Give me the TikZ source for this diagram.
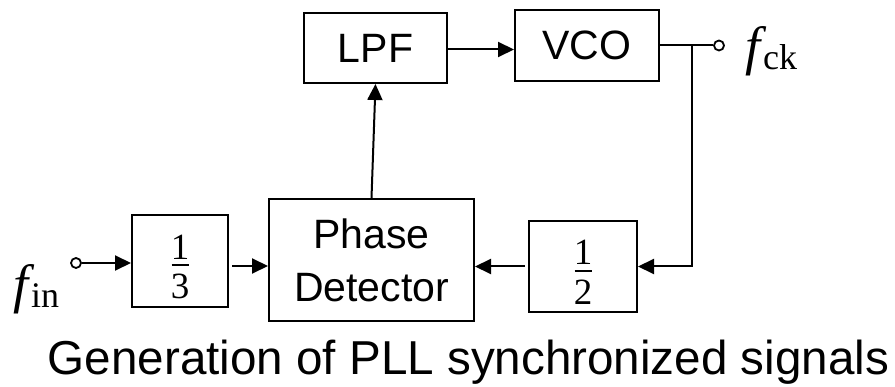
\documentclass[tikz,border=0pt]{standalone}
\usepackage{fontspec}
\setmainfont{Liberation Sans}
\newfontfamily\serifmath{Liberation Serif}
\usetikzlibrary{arrows.meta}
\newcommand{\myfrac}[2]{\vbox{\offinterlineskip\serifmath\fontsize{37}{37}\selectfont
  \kern12pt\hbox to 19pt{\hss#1\hss}\kern5pt
  \hbox to 19pt{\hss\vrule width 17pt height 2pt\hss}\kern8pt
  \hbox to 19pt{\hss#2\hss}}}
\newcommand{\mysub}[2]{{\serifmath\fontsize{54}{54}\selectfont\itshape #1}\kern3pt{\serifmath\fontsize{36}{36}\selectfont\raisebox{-5pt}{#2}}}
\tikzset{
  blk/.style={draw, line width=2pt, inner sep=0pt, align=center,
    font=\fontsize{41}{53}\selectfont},
  fracbox/.style={draw, line width=2pt, inner sep=0pt},
  wire/.style={line width=2pt},
  arr/.style={line width=2pt, -{Triangle[length=16pt,width=15pt]}},
  port/.style={circle, draw, line width=1.8pt, fill=white, minimum size=10pt, inner sep=0pt},
  lbl/.style={inner sep=0pt},
}
\begin{document}
\begin{tikzpicture}[x=1pt,y=-1pt]
\useasboundingbox (0,0) rectangle (895,387);
\fill[white] (0,0) rectangle (895,387);
% blocks
\node[blk, minimum width=143pt, minimum height=70pt] (lpf) at (375.5,48) {LPF};
\node[blk, minimum width=144pt, minimum height=71pt] (vco) at (587,45.5) {VCO};
\node[blk, minimum width=205pt, minimum height=122pt] (pd) at (371.5,260) {Phase\\Detector};
\node[fracbox, minimum width=96pt, minimum height=92pt] (d3) at (180,261) {\myfrac{1}{3}};
\node[fracbox, minimum width=108pt, minimum height=91pt] (d2) at (583,266.5) {\myfrac{1}{2}};
% ports
\node[port] (cin) at (76,263) {};
\node[port] (cout) at (719,45.5) {};
\coordinate (tap) at (692,45.5);
% labels
\node[lbl, anchor=base west] (fin) at (13,303) {\mysub{f}{in}};
\node[lbl, anchor=base west] (fck) at (745,65) {\mysub{f}{ck}};
\node[inner sep=0pt, anchor=base, font=\fontsize{47.6}{52}\selectfont] (cap) at (468.5,375) {Generation of PLL synchronized signals};
% connectors
\draw[arr] (cin.east) -- (cin.east -| d3.west);
\coordinate (a1) at ([xshift=3pt,yshift=-5pt]d3.east);
\draw[arr] (a1) -- (a1 -| pd.west);
\draw[arr] (pd.north) -- (lpf.south);
\draw[arr] ([yshift=-1.5pt]lpf.east) -- ([yshift=-1.5pt]lpf.east -| vco.west);
\draw[wire] (vco.east) -- (cout.west);
\draw[arr] (tap) |- (d2.east);
\coordinate (a2) at ([xshift=-3pt]d2.west);
\draw[arr] (a2) -- (a2 -| pd.east);
\end{tikzpicture}
\end{document}
